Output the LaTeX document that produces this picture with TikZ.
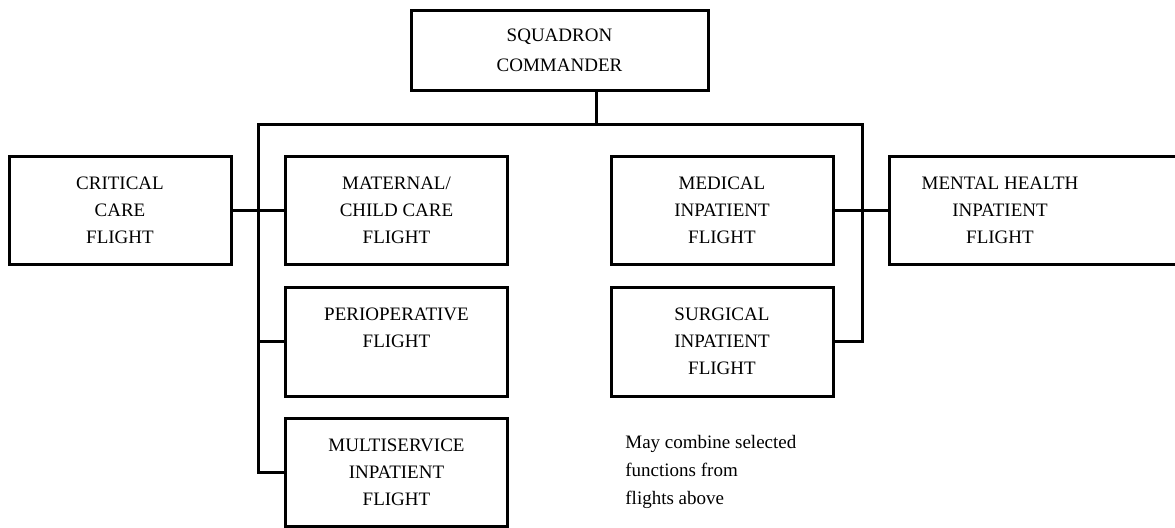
\documentclass[tikz,border=0pt]{standalone}
\usepackage{fontspec}
\setmainfont{Liberation Serif}
\tikzset{
  flight/.style={
    draw, line width=1.5pt, align=center, inner sep=0pt,
    minimum width=111pt, minimum height=54pt,
    font=\fontsize{9.5pt}{13.5pt}\selectfont
  },
  link/.style={line width=1.5pt},
}
\begin{document}
\begin{tikzpicture}[x=0.5pt,y=-0.5pt]
  \useasboundingbox (0,0) rectangle (1175,527);
  \clip (0,0) rectangle (1175,527);

  \node[flight, minimum width=148.5pt, minimum height=40pt,
    font=\fontsize{9.5pt}{15pt}\selectfont] (squad) at (559.5,50) {SQUADRON\\COMMANDER};

  \node[flight] (critical) at (120,210) {CRITICAL\\CARE\\FLIGHT};
  \node[flight] (maternal) at (396.5,210) {MATERNAL/\\CHILD CARE\\FLIGHT};
  \node[flight] (medical) at (722,210) {MEDICAL\\INPATIENT\\FLIGHT};
  \node[flight, minimum width=145.5pt,
    label={[align=center, xshift=-17.25pt, font=\fontsize{9.5pt}{13.5pt}\selectfont]center:MENTAL HEALTH\\INPATIENT\\FLIGHT}]
    (mental) at (1034.5,210) {};

  \node[flight, minimum height=54.5pt] (periop) at (396.5,341.5) {PERIOPERATIVE\\FLIGHT\\\mbox{}};
  \node[flight, minimum height=54.5pt] (surgical) at (722,341.5) {SURGICAL\\INPATIENT\\FLIGHT};
  \node[flight] (multi) at (396.5,472) {MULTISERVICE\\INPATIENT\\FLIGHT};

  \node[anchor=north west, align=left, inner sep=0pt,
    font=\fontsize{9.5pt}{14pt}\selectfont] (note) at (625,435)
    {May combine selected\\functions from\\flights above};

  % bus lines
  \coordinate (busl) at (258,124);
  \coordinate (busr) at (862,124);
  \draw[link] ([xshift=18.25pt]squad.south) -- ([xshift=18.25pt]squad.south |- busl);
  \draw[link] (multi.west) -- (multi.west -| busl) -- (busl) -- (busr)
    -- (surgical.east -| busr) -- (surgical.east);
  \draw[link] (periop.west -| busl) -- (periop.west);
  \draw[link] (critical.east) -- (maternal.west);
  \draw[link] (medical.east) -- (mental.west);
\end{tikzpicture}
\end{document}
